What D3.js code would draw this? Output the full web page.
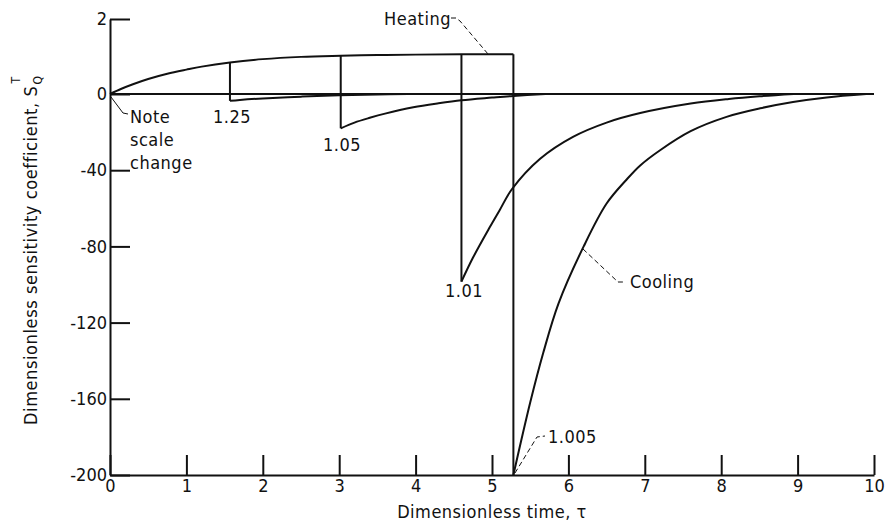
<!DOCTYPE html>
<html>
<head>
<meta charset="utf-8">
<script src="https://cdn.jsdelivr.net/npm/d3@7/dist/d3.min.js"></script>
<style>
  html, body { margin: 0; padding: 0; background: #fff; }
  svg text { font-family: "DejaVu Sans Condensed", "DejaVu Sans", sans-serif; font-stretch: condensed; fill: #111; }
</style>
</head>
<body>
<svg id="chart" width="886" height="530"></svg>
<script>
// ---- data ----
const xTicks = [0, 1, 2, 3, 4, 5, 6, 7, 8, 9, 10];
const yTicks = [2, 0, -40, -80, -120, -160, -200];

// common heating envelope (upper, expanded scale)
const heatTime  = [0, 0.15, 0.3, 0.5, 0.75, 1.0, 1.2, 1.57, 2.0, 2.5, 3.02, 3.5, 4.0, 4.6, 5.28];
const heatValue = [0, 0.14, 0.26, 0.40, 0.54, 0.65, 0.73, 0.84, 0.93, 0.99, 1.02, 1.04, 1.05, 1.06, 1.06];

// cases: heating ends, then drop and cooling decay
const caseLabels = ["1.25", "1.05", "1.01", "1.005"];
const heatEnd    = [1.57, 3.02, 4.6, 5.28];

const coolTime125  = [1.57, 1.7, 2.0, 2.5, 3.0, 3.5, 3.9];
const coolValue125 = [-3.6, -3.1, -2.3, -1.4, -0.7, -0.25, 0];

const coolTime105  = [3.02, 3.2, 3.4, 3.6, 3.97, 4.3, 4.6, 5.0, 5.28, 5.7];
const coolValue105 = [-18, -15, -12.5, -10.3, -7, -4.9, -3.3, -1.9, -1.0, 0];

const coolTime101  = [4.6, 4.75, 4.97, 5.1, 5.26, 5.63, 6.06, 6.5, 6.94, 7.6, 8.1, 8.5, 8.95];
const coolValue101 = [-98.5, -86, -70, -61, -50, -34, -22.5, -15, -10, -5, -2.6, -1.2, 0];

const coolTime1005  = [5.28, 5.5, 5.67, 5.87, 6.2, 6.5, 6.76, 6.94, 7.2, 7.6, 8.07, 8.51, 8.94, 9.38, 9.9];
const coolValue1005 = [-200, -162, -136, -110, -80, -57.5, -45, -37.5, -29.5, -19.5, -12, -7.5, -4.2, -1.8, 0];

const coolTimes  = [coolTime125, coolTime105, coolTime101, coolTime1005];
const coolValues = [coolValue125, coolValue105, coolValue101, coolValue1005];

// ---- chart ----
const svg = d3.select("#chart");
const x = d3.scaleLinear().domain([0, 10]).range([110, 874]);
// scale change at zero: 0..2 expanded, 0..-200 compressed
const y = d3.scaleLinear().domain([-200, 0, 2]).range([475, 94, 19]);

const ink = "#111";
const fs = 18;
const ls = "0.5px";

// axes
const yAxis = d3.axisLeft(y).tickValues(yTicks).tickSizeInner(-20).tickSizeOuter(0).tickPadding(3)
  .tickFormat(d => d);
const gy = svg.append("g").attr("transform", `translate(${x(0)},0)`).call(yAxis);
gy.select(".domain").attr("stroke", ink).attr("stroke-width", 2);
gy.selectAll(".tick line").attr("stroke", ink).attr("stroke-width", 2);
gy.selectAll(".tick text").attr("font-size", fs).attr("font-family", null);

const xAxis = d3.axisBottom(x).tickValues(xTicks).tickSizeInner(-20).tickSizeOuter(0).tickPadding(4)
  .tickFormat(d => d);
const gx = svg.append("g").attr("transform", `translate(0,${y(-200)})`).call(xAxis);
gx.select(".domain").attr("stroke", ink).attr("stroke-width", 2);
gx.selectAll(".tick line").attr("stroke", ink).attr("stroke-width", 2);
gx.selectAll(".tick text").attr("font-size", fs).attr("font-family", null);

// zero line
svg.append("line")
  .attr("x1", x(0)).attr("x2", x(10)).attr("y1", y(0)).attr("y2", y(0))
  .attr("stroke", ink).attr("stroke-width", 2);

const line = d3.line().x(d => x(d[0])).y(d => y(d[1])).curve(d3.curveCatmullRom.alpha(0.5));

// heating envelope
svg.append("path")
  .attr("d", line(heatTime.map((t, i) => [t, heatValue[i]])))
  .attr("fill", "none").attr("stroke", ink).attr("stroke-width", 2);

// drops and cooling curves
heatEnd.forEach((te, k) => {
  const top = heatValue[heatTime.indexOf(te)];
  svg.append("line")
    .attr("x1", x(te)).attr("x2", x(te))
    .attr("y1", y(top)).attr("y2", y(coolValues[k][0]))
    .attr("stroke", ink).attr("stroke-width", 2);
  svg.append("path")
    .attr("d", line(coolTimes[k].map((t, i) => [t, coolValues[k][i]])))
    .attr("fill", "none").attr("stroke", ink).attr("stroke-width", 2);
});

// case labels
const labelPos = [
  {x: 213, y: 123},
  {x: 323, y: 151},
  {x: 445, y: 297},
  {x: 548, y: 443}
];
caseLabels.forEach((lab, k) => {
  svg.append("text").attr("x", labelPos[k].x).attr("y", labelPos[k].y)
    .attr("font-size", fs).attr("letter-spacing", ls).text(lab);
});

// annotations
const ann = svg.append("g");
[["Note", 123], ["scale", 146], ["change", 169]].forEach(([t, yy]) => {
  ann.append("text").attr("x", 130).attr("y", yy).attr("font-size", fs).attr("letter-spacing", ls).text(t);
});
ann.append("path").attr("d", "M111,97 L123,113 L128,114")
  .attr("fill", "none").attr("stroke", ink).attr("stroke-width", 1);

ann.append("text").attr("x", 384).attr("y", 25).attr("font-size", fs).attr("letter-spacing", ls).text("Heating");
ann.append("path").attr("d", "M451,18 L456,18 L460,21 L488,54")
  .attr("fill", "none").attr("stroke", ink).attr("stroke-width", 1).attr("stroke-dasharray", "5,3");

ann.append("text").attr("x", 630).attr("y", 288).attr("font-size", fs).attr("letter-spacing", ls).text("Cooling");
ann.append("path").attr("d", "M583,249 L618,282 L625,282")
  .attr("fill", "none").attr("stroke", ink).attr("stroke-width", 1).attr("stroke-dasharray", "5,3");

ann.append("path").attr("d", "M515,473 L537,437 L545,436")
  .attr("fill", "none").attr("stroke", ink).attr("stroke-width", 1).attr("stroke-dasharray", "5,3");

// axis titles
svg.append("text").attr("x", 492).attr("y", 518).attr("font-size", fs).attr("text-anchor", "middle")
  .attr("letter-spacing", ls).text("Dimensionless time, τ");

const gt = svg.append("g").attr("transform", "translate(37,0) rotate(-90)");
const main = gt.append("text").attr("x", -425).attr("y", 0).attr("font-size", fs)
  .attr("letter-spacing", "0.6px").text("Dimensionless sensitivity coefficient, S");
const endX = -425 + main.node().getComputedTextLength();
gt.append("text").attr("x", endX + 1).attr("y", 5).attr("font-size", 12).text("Q");
gt.append("text").attr("x", endX + 2).attr("y", -17).attr("font-size", 12).text("T");
</script>
</body>
</html>
